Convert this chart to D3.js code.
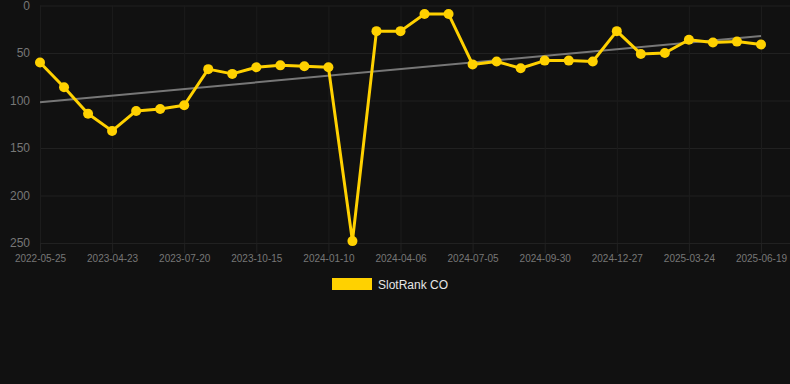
<!DOCTYPE html>
<html>
<head>
<meta charset="utf-8">
<script src="https://cdn.jsdelivr.net/npm/d3@7"></script>
<style>
  html, body { margin: 0; padding: 0; background: #111111; }
  body { width: 790px; height: 384px; overflow: hidden; font-family: "Liberation Sans", Arial, sans-serif; }
  #chart svg { display: block; }
</style>
</head>
<body>
<div id="chart"></div>
<script>
// Dates (every third one is shown on the axis)
const dates = [
  '2022-05-25', '2023-02-24', '2023-03-25', '2023-04-23', '2023-05-22', '2023-06-21',
  '2023-07-20', '2023-08-18', '2023-09-16', '2023-10-15', '2023-11-13', '2023-12-12',
  '2024-01-10', '2024-02-08', '2024-03-08', '2024-04-06', '2024-05-06', '2024-06-05',
  '2024-07-05', '2024-08-02', '2024-08-31', '2024-09-30', '2024-10-29', '2024-11-28',
  '2024-12-27', '2025-01-25', '2025-02-23', '2025-03-24', '2025-04-22', '2025-05-21',
  '2025-06-19'
];

// Rank values (lower is better, axis reversed)
const ranks = [
  60, 86, 114, 132, 111, 109, 105, 67, 72, 65, 63, 64, 65, 248, 27, 27,
  9, 9, 62, 59, 66, 58, 58, 59, 27, 51, 50, 36, 39, 38, 41
];

const yTicks = [0, 50, 100, 150, 200, 250];
const seriesName = 'SlotRank CO';

const W = 790, H = 384;
const plot = { left: 40, right: 790, top: 5.5, bottom: 243, lastX: 761 };

const svg = d3.select('#chart').append('svg')
  .attr('width', W).attr('height', H);

const x = d3.scalePoint()
  .domain(dates)
  .range([plot.left, plot.lastX]);

const y = d3.scaleLinear()
  .domain([0, 250])
  .range([plot.top, plot.bottom]);

// Horizontal grid + y labels
svg.append('g')
  .attr('transform', `translate(${plot.left},0)`)
  .call(d3.axisLeft(y).tickValues(yTicks).tickSize(0).tickPadding(10))
  .call(g => g.select('.domain').remove())
  .call(g => g.selectAll('.tick line').clone()
    .attr('x2', plot.right - plot.left)
    .attr('stroke', '#212121').attr('stroke-width', 1))
  .call(g => g.selectAll('.tick text')
    .attr('fill', '#777').style('font-size', '12px')
    .style('font-family', '"Liberation Sans", Arial, sans-serif'));

// Vertical grid + x labels (every third date)
const shownDates = dates.filter((_, i) => i % 3 === 0);
svg.append('g')
  .attr('transform', `translate(0,${plot.bottom})`)
  .call(d3.axisBottom(x).tickValues(shownDates).tickSize(10).tickPadding(2))
  .call(g => g.select('.domain').remove())
  .call(g => g.selectAll('.tick line').attr('stroke', '#222'))
  .call(g => g.selectAll('.tick line').clone()
    .attr('y1', 0).attr('y2', plot.top - plot.bottom)
    .attr('stroke', '#1c1c1c'))
  .call(g => g.selectAll('.tick text')
    .attr('fill', '#777').style('font-size', '10px')
    .style('font-family', '"Liberation Sans", Arial, sans-serif'));

// Linear trend (least squares over the index)
const n = ranks.length;
const idx = d3.range(n);
const mx = d3.mean(idx), my = d3.mean(ranks);
const slope = d3.sum(idx, i => (i - mx) * (ranks[i] - my)) / d3.sum(idx, i => (i - mx) ** 2);
const intercept = my - slope * mx;

svg.append('line')
  .attr('x1', x(dates[0])).attr('y1', y(intercept))
  .attr('x2', x(dates[n - 1])).attr('y2', y(intercept + slope * (n - 1)))
  .attr('stroke', '#777').attr('stroke-width', 2);

// Series line
const line = d3.line()
  .x((d, i) => x(dates[i]))
  .y(d => y(d));

svg.append('path')
  .datum(ranks)
  .attr('fill', 'none')
  .attr('stroke', '#FFD100')
  .attr('stroke-width', 3)
  .attr('stroke-linejoin', 'round')
  .attr('d', line);

svg.selectAll('.dot')
  .data(ranks)
  .enter()
  .append('circle')
  .attr('class', 'dot')
  .attr('cx', (d, i) => x(dates[i]))
  .attr('cy', d => y(d))
  .attr('r', 5)
  .attr('fill', '#FFD100');

// Legend
const legend = svg.append('g').attr('transform', 'translate(332,278)');
legend.append('rect')
  .attr('width', 40).attr('height', 12)
  .attr('fill', '#FFD100');
legend.append('text')
  .attr('x', 46).attr('y', 10.5)
  .attr('fill', '#e6e6e6')
  .style('font-size', '12px')
  .style('font-family', '"Liberation Sans", Arial, sans-serif')
  .text(seriesName);
</script>
</body>
</html>
